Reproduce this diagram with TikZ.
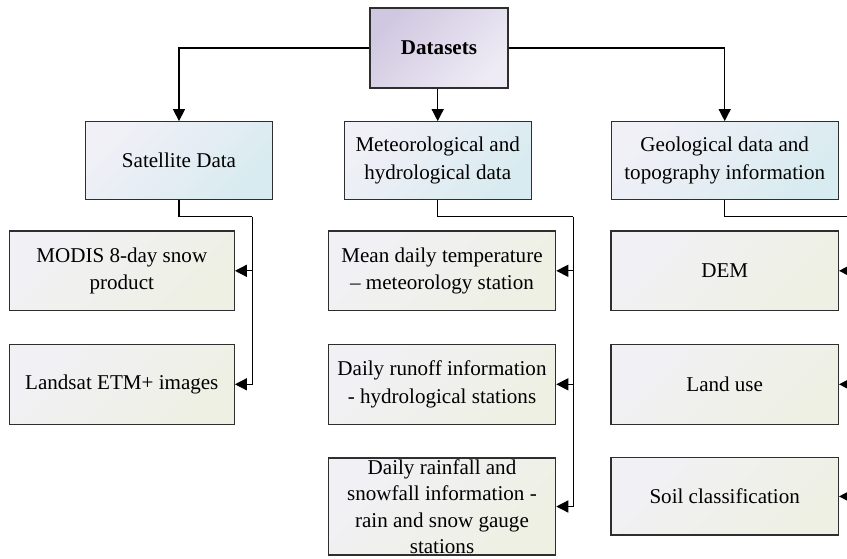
\documentclass[tikz,border=0pt]{standalone}
\usepackage{fontspec}
\setmainfont{Liberation Serif}
\newfontfamily\lserif{Liberation Serif}
\usetikzlibrary{arrows.meta}
\definecolor{dsA}{HTML}{D0C8E1}
\definecolor{dsB}{HTML}{EEEBF4}
\definecolor{lvA}{HTML}{F1F0F7}
\definecolor{lvB}{HTML}{D8EBF0}
\definecolor{leA}{HTML}{F1F0F5}
\definecolor{leB}{HTML}{EEF0E3}
\definecolor{edge}{HTML}{2E2E2E}
\tikzset{
  basebox/.style={draw=edge, line width=0.9pt, rectangle, align=center, inner sep=0pt,
    font=\lserif\fontsize{15.8}{20.5}\selectfont},
  topbox/.style={basebox, top color=dsA, bottom color=dsB, shading angle=45,
    minimum width=103.5pt, minimum height=60pt, font=\lserif\fontsize{15.8}{20.5}\selectfont\bfseries},
  midbox/.style={basebox, top color=lvA, bottom color=lvB, shading angle=45, minimum height=58.2pt},
  leafbox/.style={basebox, top color=leA, bottom color=leB, shading angle=45, minimum height=59.8pt},
  conn/.style={draw=black, line width=1pt},
  arr/.style={conn, -{Triangle[length=9pt,width=9pt]}}
}
\begin{document}
\begin{tikzpicture}[x=0.75pt, y=-0.75pt]
\clip (0,0) rectangle (847,558);
\fill[white] (0,0) rectangle (847,558);

\node[topbox] (ds) at (439,48) {Datasets};

\node[midbox, minimum width=140.25pt] (sat) at (179,160.5) {Satellite Data};
\node[midbox, minimum width=140.25pt] (met) at (437.7,160.5) {Meteorological and\\hydrological data};
\node[midbox, minimum width=170.25pt] (geo) at (724.7,160.5) {Geological data and\\topography information};

\node[leafbox, minimum width=168.75pt] (modis) at (121.8,270.8) {MODIS 8-day snow\\product};
\node[leafbox, minimum width=168.75pt] (landsat) at (121.8,384.3) {Landsat ETM+ images};

\node[leafbox, minimum width=170.5pt] (mean) at (442,270.8) {Mean daily temperature\\– meteorology station};
\node[leafbox, minimum width=170.5pt] (runoff) at (442,384.3) {Daily runoff information\\- hydrological stations};
\node[leafbox, minimum width=170.5pt, minimum height=72.75pt, font=\lserif\fontsize{15.8}{19.8}\selectfont] (rain) at (442,506.5) {Daily rainfall and\\snowfall information -\\rain and snow gauge\\stations};

\node[leafbox, minimum width=170.5pt] (dem) at (724.7,270.8) {DEM};
\node[leafbox, minimum width=170.5pt] (land) at (724.7,384.3) {Land use};
\node[leafbox, minimum width=170.5pt, minimum height=58pt] (soil) at (724.7,496.4) {Soil classification};

% top level
\draw[arr] (ds.west) -| (sat.north);
\draw[arr] (ds.east) -| (geo.north);
\draw[arr] (ds.south -| met.north) -- (met.north);

% satellite branch
\coordinate (sj) at (252.3,216.7);
\draw[conn] (sat.south) |- (sj);
\draw[arr] (sj) |- (landsat.east);
\draw[arr] (sj |- modis.east) -- (modis.east);

% meteorological branch
\coordinate (mj) at (573.3,216.7);
\draw[conn] (met.south) |- (mj);
\draw[arr] (mj) |- (rain.east);
\draw[arr] (mj |- mean.east) -- (mean.east);
\draw[arr] (mj |- runoff.east) -- (runoff.east);

% geological branch
\coordinate (gj) at (856.5,216.7);
\draw[conn] (geo.south) |- (gj);
\draw[arr] (gj) |- (soil.east);
\draw[arr] (gj |- dem.east) -- (dem.east);
\draw[arr] (gj |- land.east) -- (land.east);
\end{tikzpicture}
\end{document}
